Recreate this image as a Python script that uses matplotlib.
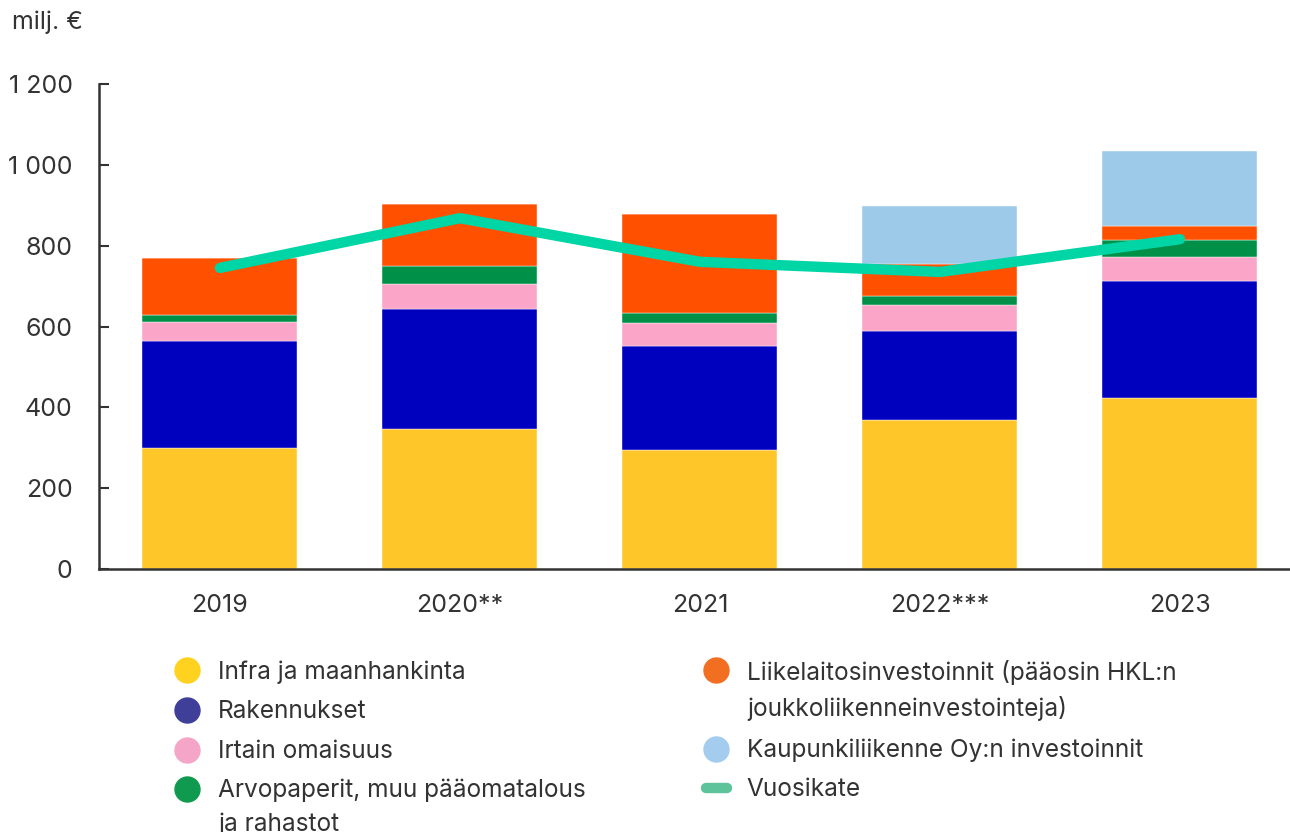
import numpy as np
import matplotlib
matplotlib.use("Agg")
import matplotlib.pyplot as plt
from matplotlib.lines import Line2D

plt.rcParams['font.family'] = ['Inter', 'DejaVu Sans']

# vuodet ja sarjat (milj. €)
YEARS = ["2019", "2020**", "2021", "2022***", "2023"]
infra = [299, 346, 294, 369, 423]
rakennukset = [265, 297, 258, 220, 289]
irtain = [47, 62, 57, 64, 60]
arvopaperit = [17, 45, 24, 23, 42]
liikelaitos = [141, 153, 245, 79, 35]
kaupunkiliikenne = [0, 0, 0, 143, 186]
vuosikate = [745, 868, 760, 735, 816]
Y_LABELS = ["0", "200", "400", "600", "800", "1 000", "1 200"]

SERIES = [infra, rakennukset, irtain, arvopaperit, liikelaitos, kaupunkiliikenne]
BAR_COLORS = ["#FFC629", "#0000BF", "#FBA6C8", "#009047", "#FF5000", "#9ECAEA"]
LEG_COLORS = ["#FFD21F", "#3F3F9A", "#F5A6C8", "#109A50", "#F26F22", "#A3CCEE"]
LINE_COLOR = "#00D5A6"
TEXT = "#333333"

fig = plt.figure(figsize=(12.9, 8.32), dpi=100)
ax = fig.add_axes([99 / 1290, 1 - 569 / 832, 1 - 99 / 1290, (569 - 84) / 832])

x = np.arange(len(YEARS))
bottom = np.zeros(len(YEARS))
for vals, col in zip(SERIES, BAR_COLORS):
    ax.bar(x, vals, width=0.646, bottom=bottom, color=col, edgecolor="white", linewidth=0.3, zorder=2)
    bottom += np.array(vals)

ax.plot(x, vuosikate, color=LINE_COLOR, lw=7.5, solid_capstyle="round", solid_joinstyle="round", zorder=3)

ax.set_ylim(0, 1200)
ax.set_xlim(-0.504, 4.4585)
ax.set_yticks(range(0, 1201, 200))
ax.set_yticklabels(Y_LABELS)
ax.set_xticks(x)
ax.set_xticklabels(YEARS)
ax.tick_params(axis="y", direction="in", length=7, width=1.5, color=TEXT, pad=19, labelsize=18, labelcolor=TEXT)
ax.tick_params(axis="x", length=0, pad=18, labelsize=18, labelcolor=TEXT)
for s in ["top", "right"]:
    ax.spines[s].set_visible(False)
for s in ["left", "bottom"]:
    ax.spines[s].set_color(TEXT)
    ax.spines[s].set_linewidth(1.8)

fig.text(12 / 1290, 1 - 22 / 832, "milj. €", fontsize=18, color=TEXT, va="center", ha="left")

# selite käsin
def fy(py):
    return 1 - py / 832

legend_items = [
    (187, 670, LEG_COLORS[0], "Infra ja maanhankinta"),
    (187, 710, LEG_COLORS[1], "Rakennukset"),
    (187, 750, LEG_COLORS[2], "Irtain omaisuus"),
    (187, 789, LEG_COLORS[3], "Arvopaperit, muu pääomatalous\nja rahastot"),
    (716, 670, LEG_COLORS[4], "Liikelaitosinvestoinnit (pääosin HKL:n\njoukkoliikenneinvestointeja)"),
    (716, 749, LEG_COLORS[5], "Kaupunkiliikenne Oy:n investoinnit"),
]
for px, py, col, label in legend_items:
    fig.add_artist(Line2D([px / 1290], [fy(py)], marker="o", markersize=18, color=col, lw=0,
                          transform=fig.transFigure))
    fig.text((px + 31) / 1290, fy(py - 10), label, fontsize=17.6, color=TEXT, va="top", ha="left",
             linespacing=1.55)

fig.add_artist(Line2D([706 / 1290, 727 / 1290], [fy(788), fy(788)], color="#5CC39A", lw=7.5,
                      solid_capstyle="round", transform=fig.transFigure))
fig.text(746 / 1290, fy(778), "Vuosikate", fontsize=17.6, color=TEXT, va="top", ha="left")

fig.savefig("out.png", dpi=100)
